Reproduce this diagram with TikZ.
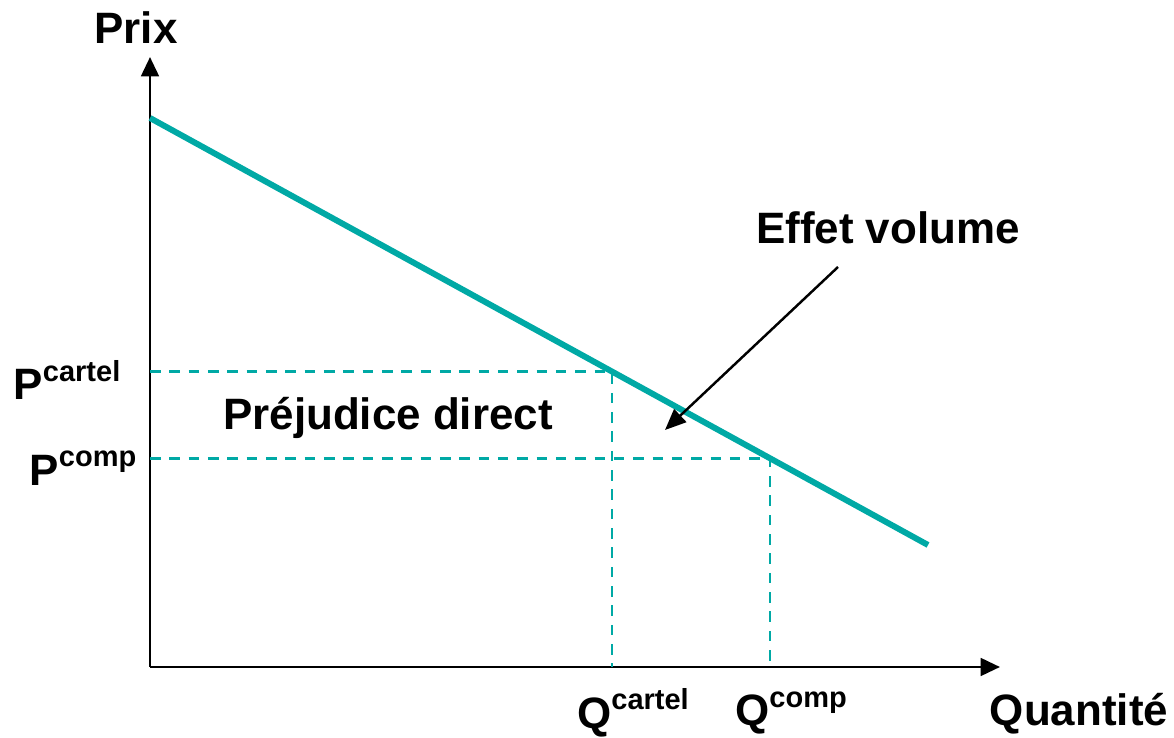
\documentclass[tikz,border=0pt]{standalone}
\usepackage{fontspec}
\setmainfont{Liberation Sans}
\usetikzlibrary{arrows.meta,calc}
\definecolor{teal2}{HTML}{00A9A5}
\newcommand{\expo}[2]{#1\raisebox{0.42em}{\fontsize{16.5}{16.5}\selectfont #2}}
\tikzset{lbl/.style={font=\fontsize{25}{25}\selectfont\bfseries, inner sep=0pt},
  guide/.style={teal2, line width=1.6pt, dash pattern=on 6pt off 5pt}}
\begin{document}
\begin{tikzpicture}
\useasboundingbox (0,0) rectangle (23.48,14.76);
% axes
\coordinate (O) at (3,1.42);
\coordinate (ytop) at (3,13.62);
\coordinate (xend) at (20,1.42);
\draw[line width=1.7pt, -{Triangle[length=11pt,width=10pt]}] (O)--(ytop);
\draw[line width=1.7pt, -{Triangle[length=11pt,width=10pt]}] (O)--(xend);
% demande
\coordinate (d1) at (3,12.4);
\coordinate (d2) at (18.56,3.86);
\coordinate (A) at ($(d1)!0.5938!(d2)$);
\coordinate (B) at ($(d1)!0.797!(d2)$);
\draw[guide] (O|-A)--(A)--(A|-O);
\draw[guide] (O|-B)--(B)--(B|-O);
\draw[teal2, line width=3.4pt] (d1)--(d2);
% textes
\node[lbl] (prix) at (2.72,14.2) {Prix};
\node[lbl] (qte) at (21.58,0.48) {Quantité};
\node[lbl] (pc) at (1.34,7.16) {\expo{P}{cartel}};
\node[lbl] (pp) at (1.66,5.4) {\expo{P}{comp}};
\node[lbl] (qc) at (12.66,0.5) {\expo{Q}{cartel}};
\node[lbl] (qp) at (15.82,0.5) {\expo{Q}{comp}};
\node[lbl] (prej) at (7.76,6.4) {Préjudice direct};
\node[lbl] (vol) at (17.76,10.2) {Effet volume};
\coordinate (tip) at (13.3,6.16);
\draw[line width=1.4pt, -{Triangle[length=12pt,width=10pt]}] (16.76,9.42)--(tip);
\end{tikzpicture}
\end{document}
